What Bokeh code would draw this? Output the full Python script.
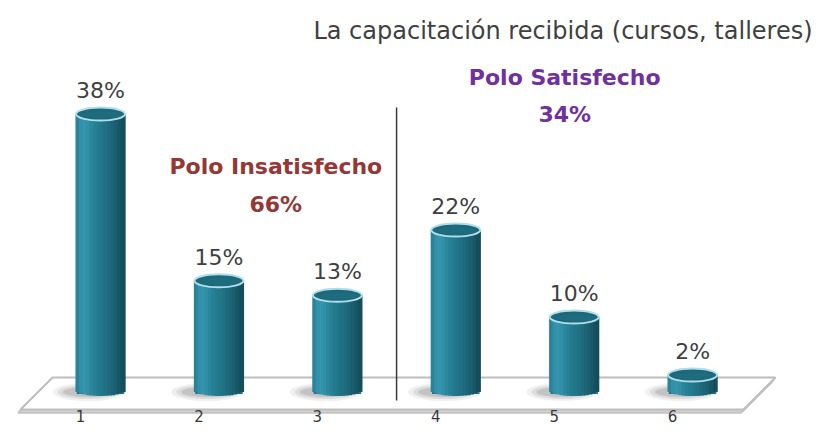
import numpy as np
from bokeh.plotting import figure
from bokeh.models import Label, LabelSet, Range1d, ColumnDataSource
from bokeh.core.properties import value
from bokeh.embed import file_html
from bokeh.resources import INLINE

# ---- data ----
categories = ["1", "2", "3", "4", "5", "6"]
percent = [38, 15, 13, 22, 10, 2]
pole_names = ["Polo Insatisfecho", "Polo Satisfecho"]
pole_totals = [66, 34]
title_text = "La capacitación recibida (cursos, talleres)"

x = np.arange(1, len(categories) + 1, dtype=float)
vals = np.array(percent, dtype=float)

PX_X = 118.4   # pixels per category unit
PX_Y = 7.25    # pixels per percent unit
Y0 = -5.10

p = figure(width=815, height=426, x_range=Range1d(0.155, 7.038),
           y_range=Range1d(Y0, 53.66), output_backend="svg",
           toolbar_location=None, min_border=0)
p.axis.visible = False
p.grid.visible = False
p.outline_line_color = None
p.background_fill_color = "white"
p.border_fill_color = "white"

FONT = "DejaVu Sans"

# ---- floor platform ----
fl_x = [x[0] - 0.405, x[-1] + 0.70, x[-1] + 0.43, x[0] - 0.676]
fl_y = [1.66, 1.66, -2.76, -2.76]
p.patch([v - 0.02 for v in fl_x], [v - 0.45 for v in fl_y],
        fill_color="#d4d4d4", line_color="#c4c4c4", line_width=2)
p.patch(fl_x, fl_y, fill_color="white", line_color="#bdbdbd", line_width=2)

# ---- shadows ----
for w, h, a in [(72, 18, 0.10), (62, 14, 0.15), (52, 10, 0.22)]:
    p.ellipse(x=x - 0.10, y=np.full_like(x, -0.35), width=w, height=h,
              width_units="screen", height_units="screen",
              fill_color="#6e6e6e", fill_alpha=a, line_color=None)

# ---- cylinders ----
bar_px = 49
w_data = bar_px / PX_X
ell_h = 13
ell_half = (ell_h / 2) / PX_Y
grad = ["#2b8399", "#3290a8", "#3595ad", "#3190a7", "#2b879d", "#278196",
        "#247b90", "#22768a", "#207184", "#1e6b7e", "#1c6577", "#1a5e6f",
        "#175666", "#144d5c"]
n = len(grad)
p.vbar(x=x, top=vals, bottom=-ell_half * 0.7, width=w_data * 0.97,
       fill_color="#22778b", line_color=None)
for i, c in enumerate(grad):
    u = -1 + (2 * i + 1) / n
    off = u * w_data / 2
    bottom = -ell_half * np.sqrt(max(0.0, 1 - u * u))
    p.vbar(x=x + off, top=vals, bottom=bottom, width=w_data / n * 1.35,
           fill_color=c, line_color=None)

# top caps
p.ellipse(x=x, y=vals, width=bar_px, height=ell_h, width_units="screen",
          height_units="screen", fill_color="#1d687a", line_color="#aedfeb",
          line_width=2)
p.ellipse(x=x + 0.01, y=vals - 0.1, width=bar_px - 10, height=ell_h - 6,
          width_units="screen", height_units="screen", fill_color="#226f82",
          fill_alpha=0.6, line_color=None)

# ---- divider ----
mid = (x[2] + x[3]) / 2
p.line([mid, mid], [-1.5, vals.max() + 0.9], line_color="#3a3a3a", line_width=1.5)

# ---- value labels ----
src = ColumnDataSource(dict(x=x, y=vals, txt=[f"{v}%" for v in percent],
                            cat=categories, base=np.full_like(x, Y0)))
p.add_layout(LabelSet(x="x", y="y", text="txt", source=src, text_align="center",
                      text_baseline="alphabetic", y_offset=16,
                      text_font=value(FONT), text_font_size="22px",
                      text_color="#3f3f3f"))
p.add_layout(LabelSet(x="x", y="base", text="cat", source=src, text_align="center",
                      text_baseline="bottom", x_offset=-20, y_offset=5,
                      text_font=value(FONT), text_font_size="15px",
                      text_color="#3a3a3a"))

# ---- title ----
p.add_layout(Label(x=7.013, y=49.5, text=title_text, text_align="right",
                   text_baseline="alphabetic", text_font=FONT,
                   text_font_size="24px", text_color="#404040"))

# ---- pole annotations ----
pole_style = [("#953735", 2.48, 30.7, 25.5), ("#7030A0", 4.92, 43.1, 38.0)]
for name, tot, (col, px, y1, y2) in zip(pole_names, pole_totals, pole_style):
    p.add_layout(Label(x=px, y=y1, text=name, text_align="center",
                       text_baseline="alphabetic", text_font=FONT,
                       text_font_style="bold", text_font_size="22px",
                       text_color=col))
    p.add_layout(Label(x=px, y=y2, text=f"{tot}%", text_align="center",
                       text_baseline="alphabetic", text_font=FONT,
                       text_font_style="bold", text_font_size="22px",
                       text_color=col))

open("out.html", "w").write(file_html(p, INLINE))
